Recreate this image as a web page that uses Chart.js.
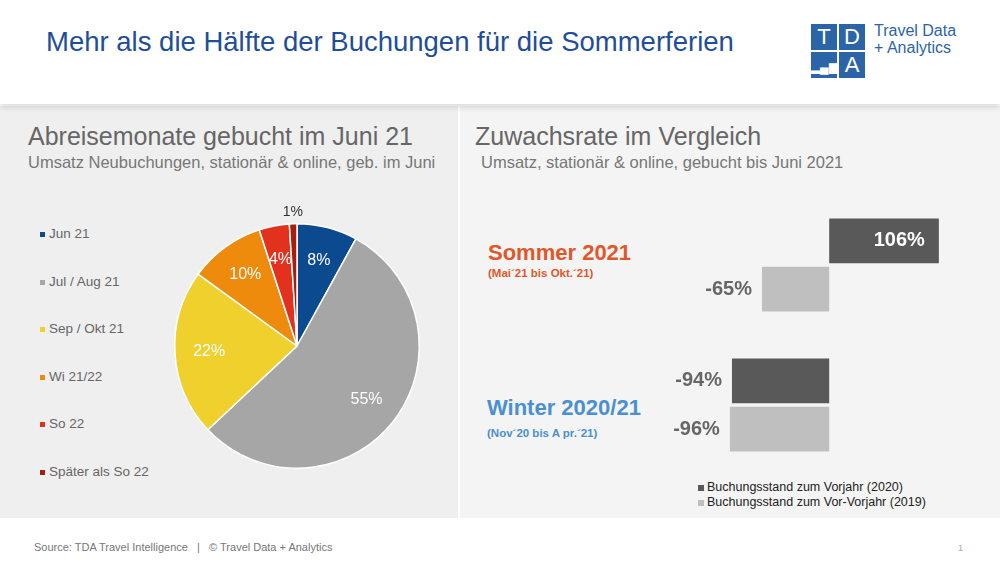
<!DOCTYPE html>
<html><head><meta charset="utf-8">
<script src="https://cdn.jsdelivr.net/npm/chart.js@4"></script>
<style>
body{margin:0;width:1000px;height:562px;position:relative;overflow:hidden;background:#fff;font-family:Arial,"Liberation Sans",sans-serif}
.abs{position:absolute}
#header{left:0;top:0;width:1000px;height:104px;background:#fff;box-shadow:0 3px 6px rgba(0,0,0,.15);z-index:2}
#lp{left:0;top:106px;width:458px;height:412px;background:#efefef}
#rp{left:460px;top:106px;width:540px;height:412px;background:#f4f4f4}
.sq{position:absolute;width:26px;height:26px;background:#2c65a7;color:#fff;font-size:22px;text-align:center;line-height:26px}
.leg{position:absolute;left:40px;font-size:13.5px;color:#666}
.leg i{display:inline-block;width:5px;height:5px;margin-right:4px;vertical-align:middle}
</style></head><body>
<div id="header" class="abs">
  <div class="abs" style="left:46px;top:26px;font-size:27.5px;color:#1f4e99">Mehr als die Hälfte der Buchungen für die Sommerferien</div>
  <div class="sq" style="left:811px;top:24px">T</div>
  <div class="sq" style="left:839px;top:24px">D</div>
  <div class="sq" style="left:811px;top:52px;font-size:12px;line-height:30px">▂▄▆</div>
  <div class="sq" style="left:839px;top:52px">A</div>
  <div class="abs" style="left:874px;top:22px;font-size:16px;line-height:17px;color:#2c65a7">Travel Data<br>+ Analytics</div>
</div>
<div id="lp" class="abs"></div>
<div id="rp" class="abs"></div>
<div class="abs" style="left:28px;top:122px;font-size:25px;color:#666">Abreisemonate gebucht im Juni 21</div>
<div class="abs" style="left:28px;top:153px;font-size:16.5px;color:#777">Umsatz Neubuchungen, stationär &amp; online, geb. im Juni</div>
<div class="abs" style="left:475px;top:122px;font-size:25px;color:#666">Zuwachsrate im Vergleich</div>
<div class="abs" style="left:481px;top:153px;font-size:16.5px;color:#777">Umsatz, stationär &amp; online, gebucht bis Juni 2021</div>
<div id="legend"></div>
<div class="abs" style="left:488px;top:240px;font-size:22px;font-weight:bold;color:#e0582a">Sommer 2021</div>
<div class="abs" style="left:488px;top:267px;font-size:11.5px;font-weight:bold;color:#e0582a">(Mai´21 bis Okt.´21)</div>
<div class="abs" style="left:487px;top:395px;font-size:22px;font-weight:bold;color:#4a90d0">Winter 2020/21</div>
<div class="abs" style="left:487px;top:427px;font-size:11.5px;font-weight:bold;color:#4a90d0">(Nov´20 bis A pr.´21)</div>
<div class="abs" style="left:698px;top:480px;font-size:12.5px;color:#222;line-height:15px">
  <div><i style="display:inline-block;width:6px;height:6px;background:#595959;margin-right:3px"></i>Buchungsstand zum Vorjahr (2020)</div>
  <div><i style="display:inline-block;width:6px;height:6px;background:#bfbfbf;margin-right:3px"></i>Buchungsstand zum Vor-Vorjahr (2019)</div>
</div>
<div class="abs" style="left:34px;top:541px;font-size:11px;color:#777">Source: TDA Travel Intelligence &nbsp; | &nbsp; © Travel Data + Analytics</div>
<div class="abs" style="left:958px;top:543px;font-size:9px;color:#aaa">1</div>
<div class="abs" style="left:152px;top:201px;width:290px;height:290px"><canvas id="pie"></canvas></div>
<div class="abs" style="left:643px;top:195px;width:300px;height:280px"><canvas id="bar"></canvas></div>
<script>
const pieLabels = ['Jun 21', 'Jul / Aug 21', 'Sep / Okt 21', 'Wi 21/22', 'So 22', 'Später als So 22'];
const pieValues = [8, 55, 22, 10, 4, 1];
const pieColors = ['#0b4a8e', '#a6a6a6', '#efd02d', '#ee8a0c', '#e2311d', '#a3200e'];
const barCategories = ['Sommer 2021', 'Winter 2020/21'];
const vorjahr = [106, -94];
const vorVorjahr = [-65, -96];

const legendEl = document.getElementById('legend');
pieLabels.forEach((l, i) => {
  const d = document.createElement('div');
  d.className = 'leg';
  d.style.top = (226 + i * 47.6) + 'px';
  d.innerHTML = `<i style="background:${pieColors[i]}"></i>${l}`;
  legendEl.appendChild(d);
});

new Chart(document.getElementById('pie'), {
  type: 'pie',
  data: { labels: pieLabels, datasets: [{ data: pieValues, backgroundColor: pieColors, borderColor: '#fff', borderWidth: 1.5 }] },
  options: {
    responsive: true, maintainAspectRatio: false, animation: false,
    layout: { padding: 22 },
    plugins: { legend: { display: false }, tooltip: { enabled: false } }
  },
  plugins: [{
    afterDatasetsDraw(chart) {
      const ctx = chart.ctx;
      ctx.save();
      ctx.textAlign = 'center'; ctx.textBaseline = 'middle';
      chart.getDatasetMeta(0).data.forEach((arc, i) => {
        const a = (arc.startAngle + arc.endAngle) / 2;
        const last = i === pieValues.length - 1;
        const r = last ? arc.outerRadius + 12 : arc.outerRadius * 0.72;
        ctx.fillStyle = last ? '#333' : '#fff';
        ctx.font = last ? '14px Arial' : '16px Arial';
        ctx.fillText(pieValues[i] + '%', arc.x + Math.cos(a) * r, arc.y + Math.sin(a) * r);
      });
      ctx.restore();
    }
  }]
});

new Chart(document.getElementById('bar'), {
  type: 'bar',
  data: {
    labels: barCategories,
    datasets: [
      { label: 'Buchungsstand zum Vorjahr (2020)', data: vorjahr, backgroundColor: '#595959' },
      { label: 'Buchungsstand zum Vor-Vorjahr (2019)', data: vorVorjahr, backgroundColor: '#bfbfbf' }
    ]
  },
  options: {
    indexAxis: 'y', responsive: true, maintainAspectRatio: false, animation: false,
    categoryPercentage: 0.69, barPercentage: 0.93,
    layout: { padding: 0 },
    scales: {
      x: { min: -180, max: 110, display: false },
      y: { display: false }
    },
    plugins: { legend: { display: false }, tooltip: { enabled: false } }
  },
  plugins: [{
    afterDatasetsDraw(chart) {
      const ctx = chart.ctx;
      ctx.save();
      ctx.font = 'bold 20px Arial';
      ctx.textBaseline = 'middle';
      ctx.textAlign = 'right';
      chart.data.datasets.forEach((ds, di) => {
        chart.getDatasetMeta(di).data.forEach((bar, i) => {
          const v = ds.data[i];
          ctx.fillStyle = v > 0 ? '#fff' : '#666';
          ctx.fillText(v + '%', bar.x - (v > 0 ? 14 : 10), bar.y);
        });
      });
      ctx.restore();
    }
  }]
});
</script>
</body></html>
